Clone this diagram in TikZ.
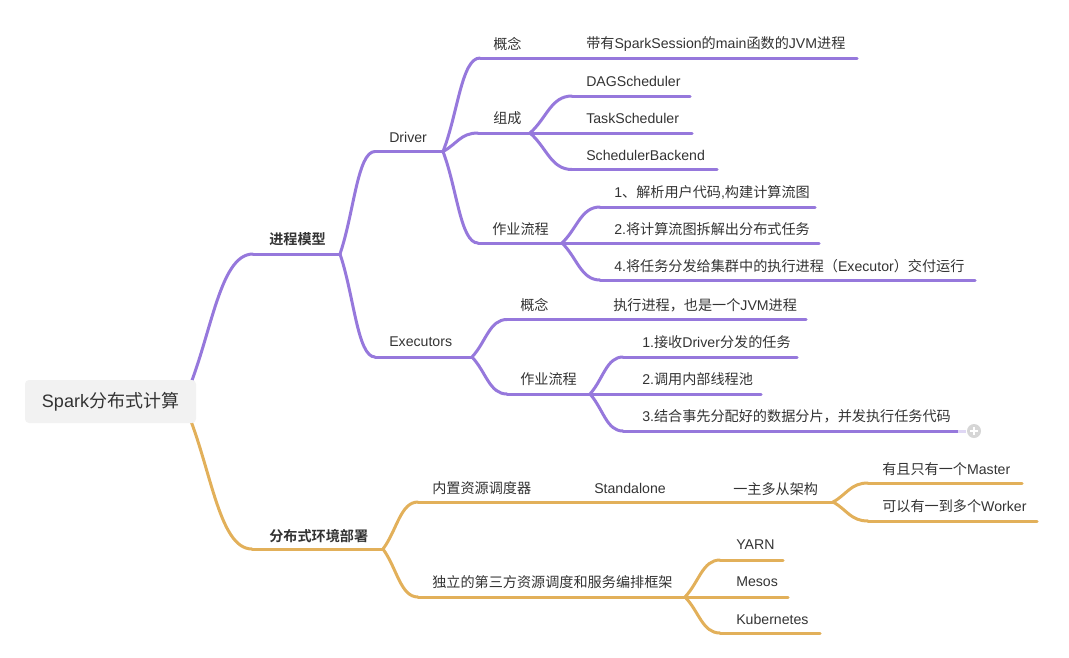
\documentclass[tikz,border=0pt]{standalone}
\usepackage{fontspec}
\usetikzlibrary{calc}
\setmainfont{Liberation Sans}
\newfontfamily\cjkfont{Noto Sans CJK SC}[BoldFont={Noto Sans CJK SC Bold}]
\XeTeXinterchartokenstate=1
\newXeTeXintercharclass\cjkcls
\newcount\mycnt
\mycnt="3000 \loop \XeTeXcharclass\mycnt=\cjkcls \advance\mycnt 1 \ifnum\mycnt<"3040 \repeat
\mycnt="4E00 \loop \XeTeXcharclass\mycnt=\cjkcls \advance\mycnt 1 \ifnum\mycnt<"A000 \repeat
\mycnt="FF00 \loop \XeTeXcharclass\mycnt=\cjkcls \advance\mycnt 1 \ifnum\mycnt<"FFF0 \repeat
\XeTeXinterchartoks 0 \cjkcls={\cjkfont}
\XeTeXinterchartoks 4095 \cjkcls={\cjkfont}
\XeTeXinterchartoks \cjkcls 0={\rmfamily}
\definecolor{pur}{HTML}{9678DC}
\definecolor{org}{HTML}{E2B05A}
\definecolor{txt}{HTML}{333333}
\definecolor{boxbg}{HTML}{F2F2F2}
\definecolor{plusc}{HTML}{D6D6D6}
\newcommand\link[3]{\draw[#1] (#2) .. controls ($(#2)!0.4!(#3)$) and ($(#3)!0.5!(#2|-#3)$) .. (#3);}
\tikzset{
  lp/.style={line width=2.25pt, draw=pur, line cap=round},
  lo/.style={line width=2.25pt, draw=org, line cap=round},
  t/.style={anchor=west, inner sep=0pt, text=txt, font=\fontsize{10.6}{12}\selectfont},
  tb/.style={t, font=\fontsize{10.6}{12}\selectfont\bfseries},
}
\begin{document}
\begin{tikzpicture}[x=0.75pt,y=-0.75pt]
\useasboundingbox (0,0) rectangle (1069,657);
% ---------- coordinates ----------
\coordinate (r0) at (183,402);
\coordinate (pm-s) at (253,254); \coordinate (pm-e) at (340,254);
\coordinate (dr-s) at (375,151.5); \coordinate (dr-e) at (443,151.5);
\coordinate (ex-s) at (375,357); \coordinate (ex-e) at (472,357);
\coordinate (dg-s) at (480,58); \coordinate (dg-e) at (857,58);
\coordinate (zc-s) at (478,133); \coordinate (zc-e) at (530,133);
\coordinate (dag-s) at (572,96); \coordinate (dag-e) at (690,96);
\coordinate (ts-s) at (572,133); \coordinate (ts-e) at (692,133);
\coordinate (sb-s) at (572,169.5); \coordinate (sb-e) at (717,169.5);
\coordinate (dl-s) at (478,243); \coordinate (dl-e) at (562,243);
\coordinate (d1-s) at (600,207); \coordinate (d1-e) at (815,207);
\coordinate (d2-s) at (600,243); \coordinate (d2-e) at (819,243);
\coordinate (d4-s) at (600,280); \coordinate (d4-e) at (975,280);
\coordinate (eg-s) at (507,319.5); \coordinate (eg-e) at (806,319.5);
\coordinate (el-s) at (507,394); \coordinate (el-e) at (590,394);
\coordinate (e1-s) at (623,357); \coordinate (e1-e) at (797,357);
\coordinate (e2-s) at (623,394); \coordinate (e2-e) at (761,394);
\coordinate (e3-s) at (623,431); \coordinate (e3-e) at (958,431);
\coordinate (e3-f) at (966,431);
\coordinate (fb-s) at (252,549); \coordinate (fb-e) at (383,549);
\coordinate (nz-s) at (418,502); \coordinate (nz-e) at (833,502);
\coordinate (ms-s) at (868,483); \coordinate (ms-e) at (1022,483);
\coordinate (wk-s) at (868,521); \coordinate (wk-e) at (1037,521);
\coordinate (dl3-s) at (418,597); \coordinate (dl3-e) at (685,597);
\coordinate (yn-s) at (720,560); \coordinate (yn-e) at (783,560);
\coordinate (me-s) at (720,597); \coordinate (me-e) at (788,597);
\coordinate (kb-s) at (720,633); \coordinate (kb-e) at (820,633);
% ---------- purple branch ----------
\link{lp}{r0}{pm-s}
\draw[lp] (pm-s) -- (pm-e);
\link{lp}{pm-e}{dr-s} \link{lp}{pm-e}{ex-s}
\draw[lp] (dr-s) -- (dr-e);
\draw[lp] (ex-s) -- (ex-e);
\link{lp}{dr-e}{dg-s} \link{lp}{dr-e}{zc-s} \link{lp}{dr-e}{dl-s}
\draw[lp] (dg-s) -- (dg-e);
\draw[lp] (zc-s) -- (zc-e);
\link{lp}{zc-e}{dag-s} \draw[lp] (zc-e) -- (ts-s); \link{lp}{zc-e}{sb-s}
\draw[lp] (dag-s) -- (dag-e); \draw[lp] (ts-s) -- (ts-e); \draw[lp] (sb-s) -- (sb-e);
\draw[lp] (dl-s) -- (dl-e);
\link{lp}{dl-e}{d1-s} \draw[lp] (dl-e) -- (d2-s); \link{lp}{dl-e}{d4-s}
\draw[lp] (d1-s) -- (d1-e); \draw[lp] (d2-s) -- (d2-e); \draw[lp] (d4-s) -- (d4-e);
\link{lp}{ex-e}{eg-s} \link{lp}{ex-e}{el-s}
\draw[lp] (eg-s) -- (eg-e); \draw[lp] (el-s) -- (el-e);
\link{lp}{el-e}{e1-s} \draw[lp] (el-e) -- (e2-s); \link{lp}{el-e}{e3-s}
\draw[lp] (e1-s) -- (e1-e); \draw[lp] (e2-s) -- (e2-e); \draw[lp] (e3-s) -- (e3-e);
\draw[line width=2.25pt, draw=pur!30] (e3-e) -- (e3-f);
\node[circle, fill=plusc, minimum size=10.5pt, inner sep=0pt] (plus) at (974,431) {};
\draw[white, line width=1.1pt] ($(plus.center)+(-4,0)$) -- ($(plus.center)+(4,0)$);
\draw[white, line width=1.1pt] ($(plus.center)+(0,-4)$) -- ($(plus.center)+(0,4)$);
% ---------- orange branch ----------
\link{lo}{r0}{fb-s}
\draw[lo] (fb-s) -- (fb-e);
\link{lo}{fb-e}{nz-s} \link{lo}{fb-e}{dl3-s}
\draw[lo] (nz-s) -- (nz-e);
\link{lo}{nz-e}{ms-s} \link{lo}{nz-e}{wk-s}
\draw[lo] (ms-s) -- (ms-e); \draw[lo] (wk-s) -- (wk-e);
\draw[lo] (dl3-s) -- (dl3-e);
\link{lo}{dl3-e}{yn-s} \draw[lo] (dl3-e) -- (me-s); \link{lo}{dl3-e}{kb-s}
\draw[lo] (yn-s) -- (yn-e); \draw[lo] (me-s) -- (me-e); \draw[lo] (kb-s) -- (kb-e);
% ---------- root ----------
\node[fill=boxbg, rounded corners=3pt, minimum width=128.25pt, minimum height=32.25pt, inner sep=0pt,
      text=txt, font=\fontsize{13.5}{15}\selectfont] (root) at (110.5,401.5) {Spark分布式计算};
% ---------- texts ----------
\node[tb] (pm) at (269,239) {进程模型};
\node[t] (dr) at (389,137) {Driver};
\node[t] (ex) at (389,342) {Executors};
\node[t] (dg) at (493,44) {概念};
\node[t] (dgl) at (586,44) {带有SparkSession的main函数的JVM进程};
\node[t] (zc) at (493,118) {组成};
\node[t] (dag) at (586,81) {DAGScheduler};
\node[t] (ts) at (586,118) {TaskScheduler};
\node[t] (sb) at (586,155) {SchedulerBackend};
\node[t] (dl) at (492,229) {作业流程};
\node[t] (d1) at (614,192) {1、解析用户代码,构建计算流图};
\node[t] (d2) at (614,229) {2.将计算流图拆解出分布式任务};
\node[t] (d4) at (614,266) {4.将任务分发给集群中的执行进程（Executor）交付运行};
\node[t] (eg) at (520,305) {概念};
\node[t] (egl) at (613,305) {执行进程，也是一个JVM进程};
\node[t] (el) at (520,379) {作业流程};
\node[t] (e1) at (642,342) {1.接收Driver分发的任务};
\node[t] (e2) at (642,379) {2.调用内部线程池};
\node[t] (e3) at (642,416) {3.结合事先分配好的数据分片，并发执行任务代码};
\node[tb] (fb) at (269,536) {分布式环境部署};
\node[t] (nz) at (432,488) {内置资源调度器};
\node[t] (sa) at (594,488) {Standalone};
\node[t] (yz) at (733,489) {一主多从架构};
\node[t] (ms) at (882,469) {有且只有一个Master};
\node[t] (wk) at (882,506) {可以有一到多个Worker};
\node[t] (dl3) at (432,582) {独立的第三方资源调度和服务编排框架};
\node[t] (yn) at (736,545) {YARN};
\node[t] (me) at (736,582) {Mesos};
\node[t] (kb) at (736,619) {Kubernetes};
\end{tikzpicture}
\end{document}
